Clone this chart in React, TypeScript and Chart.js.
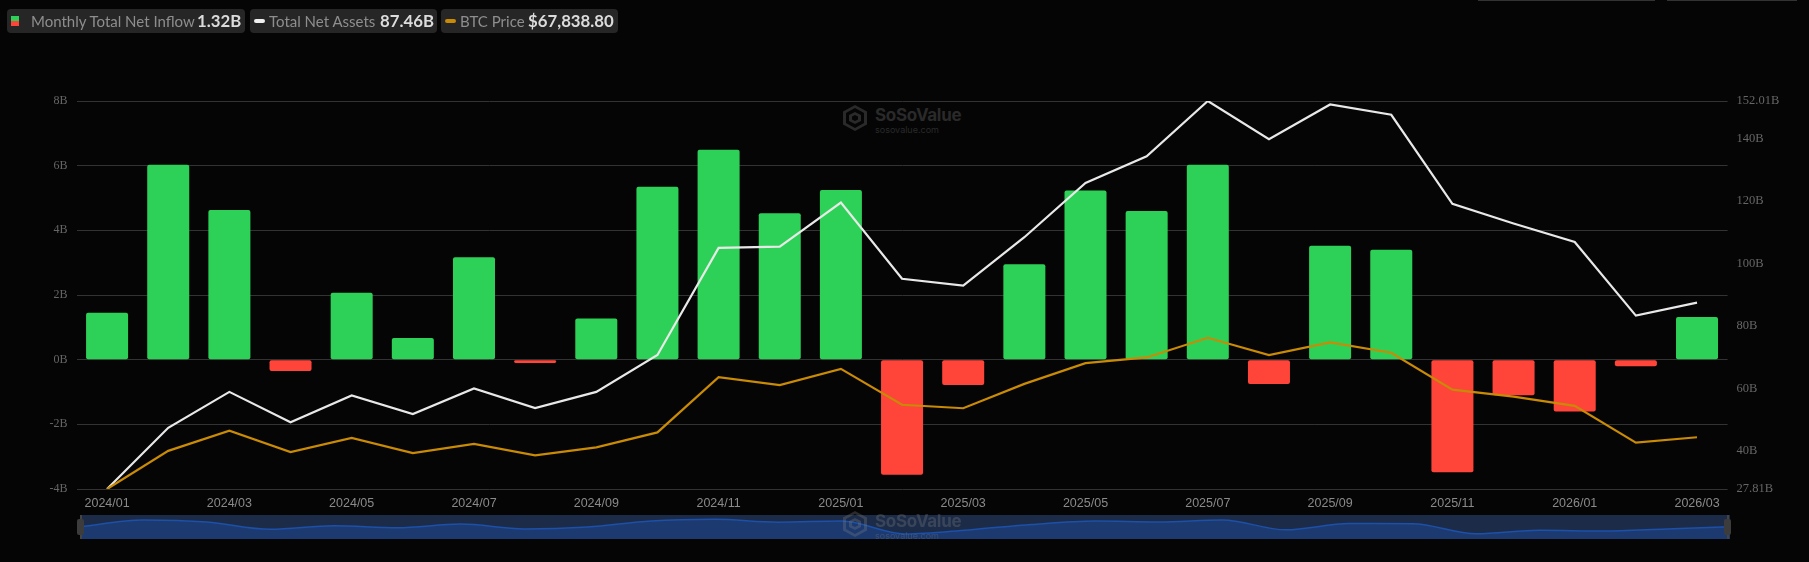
import { useEffect, useRef } from "react"
import { Chart, registerables } from "chart.js"

Chart.register(...registerables)

const months = [
  "2024/01", "2024/02", "2024/03", "2024/04", "2024/05", "2024/06", "2024/07", "2024/08", "2024/09",
  "2024/10", "2024/11", "2024/12", "2025/01", "2025/02", "2025/03", "2025/04", "2025/05", "2025/06",
  "2025/07", "2025/08", "2025/09", "2025/10", "2025/11", "2025/12", "2026/01", "2026/02", "2026/03",
]
const netInflow = [
  1.45, 6.03, 4.63, -0.35, 2.07, 0.67, 3.17, -0.1, 1.27, 5.35, 6.49, 4.53, 5.25, -3.56, -0.78, 2.95, 5.23,
  4.6, 6.03, -0.75, 3.52, 3.4, -3.48, -1.1, -1.6, -0.2, 1.32,
]
const netAssets = [
  27.81, 47.4, 58.9, 49.2, 57.75, 51.8, 60, 53.7, 58.9, 70.7, 105, 105.4, 119.5, 95.1, 92.9, 108.4, 125.8,
  134.3, 152.01, 139.8, 150.9, 147.6, 119.1, 112.8, 106.9, 83.3, 87.46,
]
const btcPrice = [
  42580, 61200, 71000, 60600, 67500, 60100, 64600, 58970, 62900, 70200, 97200, 93300, 101200, 83700, 82000,
  93900, 104000, 106800, 116400, 108000, 114150, 109100, 91050, 87700, 83200, 65200, 67838.8,
]
const assetTicks = [27.81, 40, 60, 80, 100, 120, 140, 152.01]

const GREEN = "#2ed158"
const RED = "#ff453a"
const WHITE = "#e8e8e8"
const GOLD = "#c98a06"

function LegendPill(props: { left: number; width: number; textLeft: number; valueLeft: number; label: string; value: string; mark: any }) {
  return (
    <div style={{ position: "absolute", left: props.left, top: 9, width: props.width, height: 24, background: "#262626", borderRadius: 4, fontFamily: "Lato", whiteSpace: "nowrap" }}>
      {props.mark}
      <span style={{ position: "absolute", left: props.textLeft, top: 3, fontSize: 15, lineHeight: "18px", color: "#8e8e8e" }}>{props.label}</span>
      <span style={{ position: "absolute", left: props.valueLeft, top: 2, fontSize: 16.8, lineHeight: "20px", color: "#dcdcdc", fontWeight: 700 }}>{props.value}</span>
    </div>
  )
}

function Watermark(props: { top: number; color: string }) {
  return (
    <div style={{ position: "absolute", left: 843, top: props.top, width: 125, height: 30, color: props.color, fontFamily: "Inter" }}>
      <svg width="24" height="26" viewBox="0 0 24 26" style={{ position: "absolute", left: 0, top: 0 }}>
        <path
          d="M12 0 L24 6.5 V19.5 L12 26 L0 19.5 V6.5 Z M12 3 L3 8 V18 L12 23 L21 18 V8 Z M12 7 L18 10 V16 L12 19 L6 16 V10 Z M12 10 L9 11.5 V14.5 L12 16 L15 14.5 V11.5 Z"
          fill={props.color}
          fillRule="evenodd"
        />
      </svg>
      <div style={{ position: "absolute", left: 32, top: 0, fontSize: 17, fontWeight: 700, letterSpacing: -0.3 }}>SoSoValue</div>
      <div style={{ position: "absolute", left: 32, top: 19, fontSize: 9 }}>sosovalue.com</div>
    </div>
  )
}

function Handle(props: { left: number }) {
  return (
    <div style={{ position: "absolute", left: props.left + 2, top: 515, width: 2, height: 24, background: "#444" }}>
      <div style={{ position: "absolute", left: -3, top: 4, width: 7, height: 16, borderRadius: 2, background: "#3c3c3c" }} />
    </div>
  )
}

export default function App() {
  const mainRef = useRef<HTMLCanvasElement>(null)
  const sliderRef = useRef<HTMLCanvasElement>(null)

  useEffect(() => {
    if (!mainRef.current || !sliderRef.current) return

    const main = new Chart(mainRef.current, {
      data: {
        labels: months,
        datasets: [
          {
            type: "line",
            data: netAssets,
            yAxisID: "assets",
            borderColor: WHITE,
            borderWidth: 2.2,
            pointRadius: 0,
            tension: 0,
            order: 1,
          },
          {
            type: "line",
            data: btcPrice,
            yAxisID: "btc",
            borderColor: GOLD,
            borderWidth: 2.2,
            pointRadius: 0,
            tension: 0,
            order: 0,
          },
          {
            type: "bar",
            data: netInflow,
            yAxisID: "inflow",
            backgroundColor: netInflow.map((v) => (v >= 0 ? GREEN : RED)),
            borderRadius: 2,
            borderSkipped: false,
            categoryPercentage: 1,
            barPercentage: 0.687,
            order: 2,
          },
        ],
      } as any,
      options: {
        responsive: false,
        animation: false,
        layout: { padding: { top: 101, left: 0, right: 0, bottom: 0 } },
        plugins: { legend: { display: false }, tooltip: { enabled: false } },
        scales: {
          x: {
            grid: { display: false, drawTicks: false },
            border: { display: false },
            afterFit: (axis: any) => {
              axis.height = 73
            },
            ticks: {
              autoSkip: false,
              maxRotation: 0,
              padding: 7,
              color: "#8a8a8a",
              font: { family: "Liberation Sans", size: 12.5 },
              callback: (_v: any, i: number) => (i % 2 === 0 ? months[i] : ""),
            },
          },
          inflow: {
            position: "left",
            min: -4,
            max: 8,
            afterFit: (axis: any) => {
              axis.width = 76.5
            },
            grid: { color: "#333333", lineWidth: 1, drawTicks: false },
            border: { display: false },
            ticks: {
              stepSize: 2,
              padding: 9,
              color: "#666666",
              font: { family: "Liberation Serif", size: 12 },
              callback: (v: any) => `${v}B`,
            },
          },
          assets: {
            position: "right",
            min: 27.81,
            max: 152.01,
            afterFit: (axis: any) => {
              axis.width = 81.4
            },
            afterBuildTicks: (axis: any) => {
              axis.ticks = assetTicks.map((value) => ({ value }))
            },
            grid: { display: false, drawTicks: false },
            border: { display: false },
            ticks: {
              padding: 9,
              color: "#666666",
              font: { family: "Liberation Serif", size: 12.5 },
              callback: (v: any) => `${v}B`,
            },
          },
          btc: { display: false, min: 42580, max: 232000 },
        },
      },
    })

    const slider = new Chart(sliderRef.current, {
      type: "line",
      data: {
        labels: months,
        datasets: [
          {
            data: netInflow,
            borderColor: "#1d50a8",
            borderWidth: 1.5,
            backgroundColor: "#1c3a70",
            fill: "start",
            pointRadius: 0,
            cubicInterpolationMode: "monotone",
          },
        ],
      },
      options: {
        responsive: false,
        animation: false,
        layout: { padding: 0 },
        plugins: { legend: { display: false }, tooltip: { enabled: false } },
        scales: {
          x: { display: false, offset: false },
          y: { display: false, min: -7, max: 9.4 },
        },
      },
    })

    return () => {
      main.destroy()
      slider.destroy()
    }
  }, [])

  return (
    <div style={{ position: "fixed", left: 0, top: 0, width: 1809, height: 562, background: "#050505", overflow: "hidden" }}>
      <div style={{ position: "absolute", left: 1478, top: 0, width: 177, height: 1, background: "#333" }} />
      <div style={{ position: "absolute", left: 1667, top: 0, width: 130, height: 1, background: "#333" }} />
      <Watermark top={105} color="#2a2a2a" />
      <canvas ref={mainRef} width={1809} height={562} style={{ position: "absolute", left: 0, top: 0 }} />
      <div style={{ position: "absolute", left: 80, top: 515, width: 1650, height: 24, background: "#1c2c48" }}>
        <canvas ref={sliderRef} width={1650} height={24} style={{ display: "block" }} />
      </div>
      <Watermark top={511} color="rgba(130,130,130,0.3)" />
      <Handle left={78} />
      <Handle left={1725} />
      <LegendPill
        left={7}
        width={238}
        textLeft={24}
        valueLeft={190}
        label="Monthly Total Net Inflow"
        value="1.32B"
        mark={<span style={{ position: "absolute", left: 4, top: 7, width: 8, height: 10, background: `linear-gradient(${GREEN} 50%, ${RED} 50%)` }} />}
      />
      <LegendPill
        left={250}
        width={187}
        textLeft={19}
        valueLeft={130}
        label="Total Net Assets"
        value="87.46B"
        mark={<span style={{ position: "absolute", left: 4, top: 10, width: 11, height: 4, borderRadius: 2, background: "#f0f0f0" }} />}
      />
      <LegendPill
        left={441}
        width={177}
        textLeft={19}
        valueLeft={87}
        label="BTC Price"
        value="$67,838.80"
        mark={<span style={{ position: "absolute", left: 4, top: 10, width: 11, height: 4, borderRadius: 2, background: GOLD }} />}
      />
    </div>
  )
}
